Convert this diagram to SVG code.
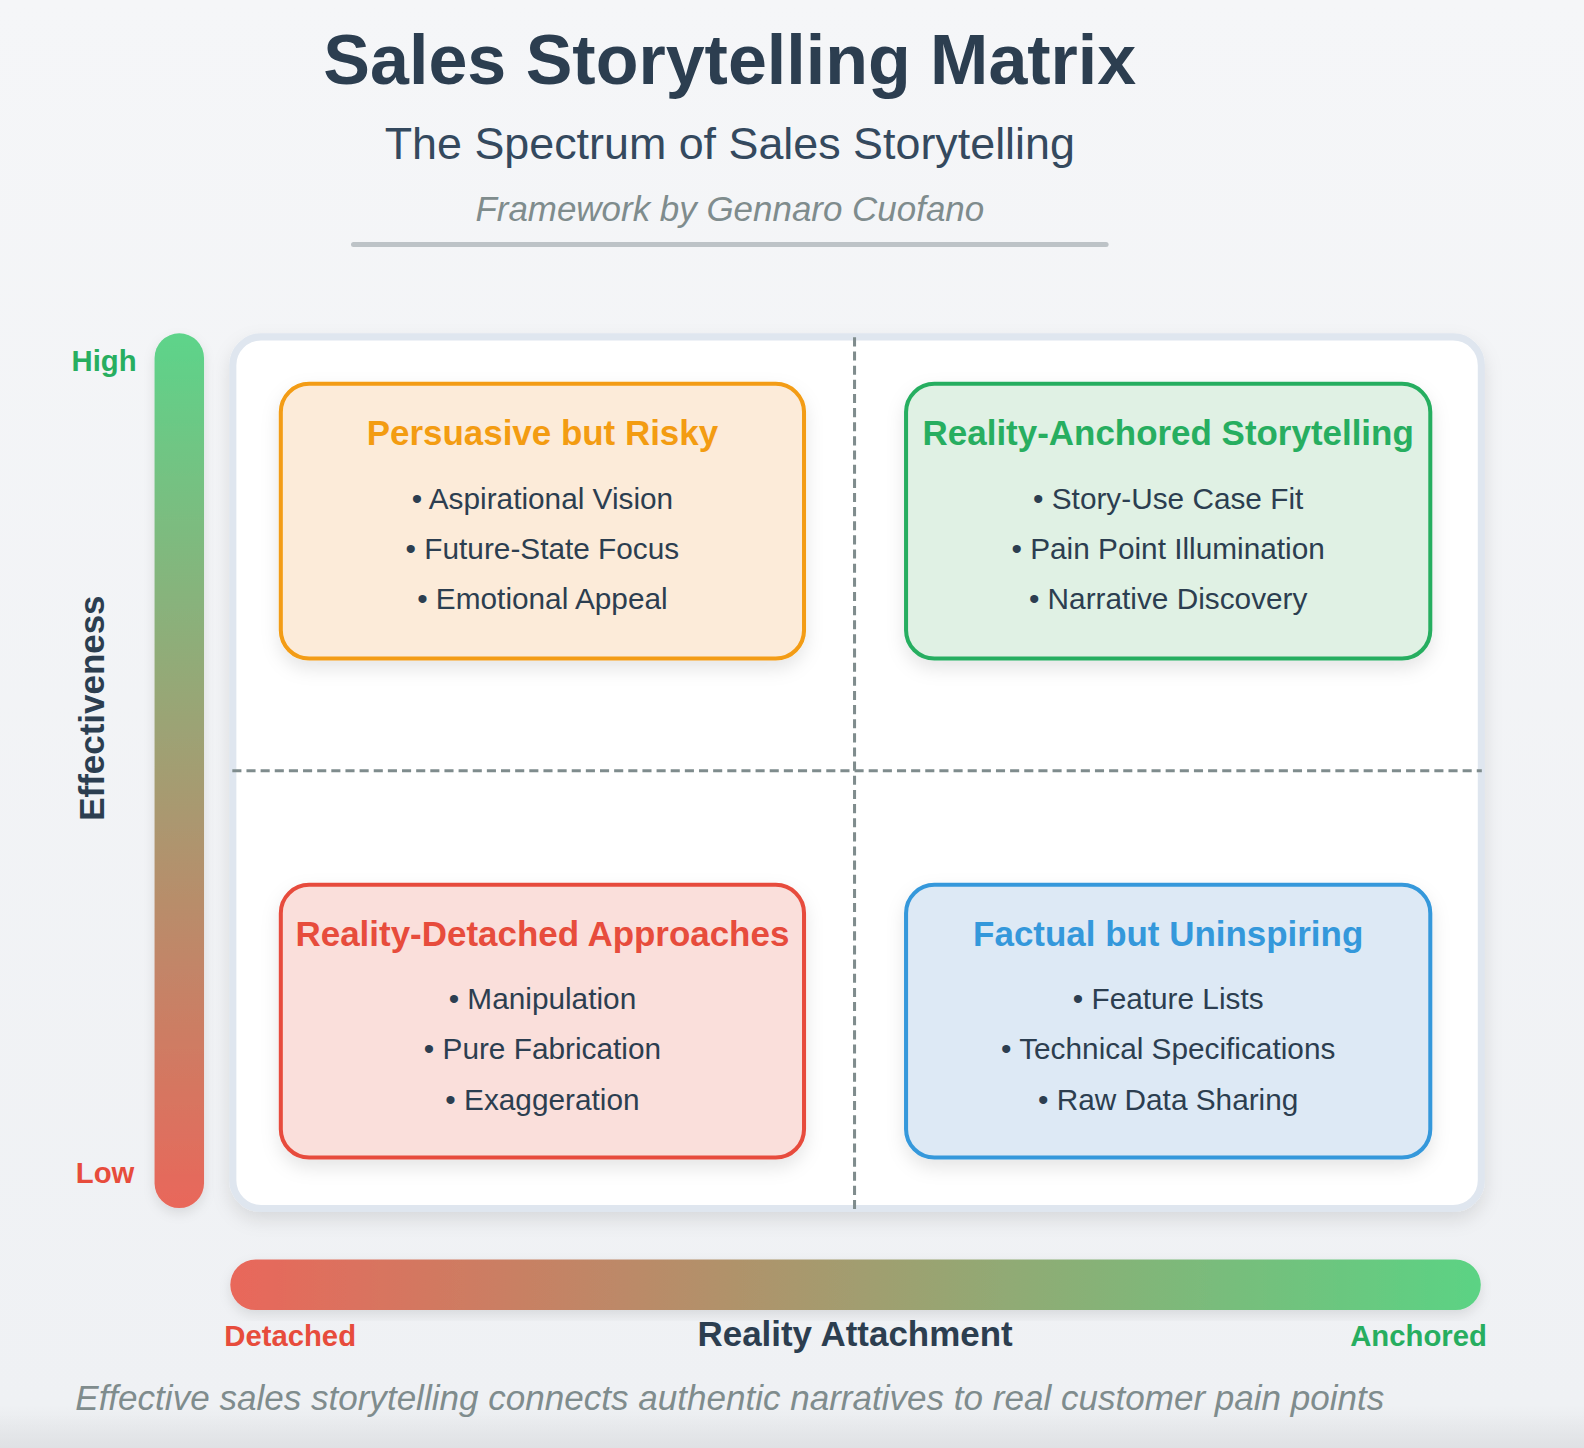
<svg xmlns="http://www.w3.org/2000/svg" width="1584" height="1448" viewBox="0 0 1584 1448">
<defs>
<style>
.t{font-family:"Liberation Sans",Arial,Helvetica,sans-serif;}
.dark{fill:#2c3e50;}
.qt{font-size:34.6px;font-weight:bold;text-anchor:middle;}
.it{font-size:29.5px;text-anchor:middle;fill:#2c3e50;}
.lbl{font-size:29px;font-weight:bold;}
.ax{font-size:34.6px;font-weight:bold;fill:#2c3e50;text-anchor:middle;}
.dash{stroke:#7f8c8d;stroke-width:3;stroke-dasharray:9 5;fill:none;}
</style>
<linearGradient id="bg" x1="0" y1="0" x2="0" y2="1">
<stop offset="0" stop-color="#f5f6f8"/>
<stop offset="0.97" stop-color="#eff1f4"/>
<stop offset="1" stop-color="#e3e5e8"/>
</linearGradient>
<linearGradient id="bottomShade" x1="0" y1="0" x2="0" y2="1">
<stop offset="0" stop-color="#e6e8eb" stop-opacity="0"/>
<stop offset="1" stop-color="#dfe1e4" stop-opacity="1"/>
</linearGradient>
<linearGradient id="vgrad" x1="0" y1="0" x2="0" y2="1">
<stop offset="0" stop-color="#5dd48a"/>
<stop offset="1" stop-color="#e9675a"/>
</linearGradient>
<linearGradient id="hgrad" x1="0" y1="0" x2="1" y2="0">
<stop offset="0" stop-color="#e9675a"/>
<stop offset="1" stop-color="#5bd384"/>
</linearGradient>
<filter id="sh" x="-20%" y="-20%" width="140%" height="150%">
<feDropShadow dx="0" dy="8" stdDeviation="9" flood-color="#000" flood-opacity="0.10"/>
</filter>
<filter id="shs" x="-20%" y="-20%" width="140%" height="140%">
<feDropShadow dx="0" dy="5" stdDeviation="6" flood-color="#000" flood-opacity="0.10"/>
</filter>
</defs>

<rect x="0" y="0" width="1584" height="1448" fill="url(#bg)"/>
<rect x="0" y="1415" width="1584" height="33" fill="url(#bottomShade)"/>

<g id="content" transform="scale(1.0101)">
<g id="header">
<text class="t dark" x="722.5" y="83" font-size="69.3" font-weight="bold" text-anchor="middle">Sales Storytelling Matrix</text>
<text class="t" x="722.5" y="157" font-size="44.4" fill="#34495e" text-anchor="middle">The Spectrum of Sales Storytelling</text>
<text class="t" x="722.5" y="219" font-size="34.6" font-style="italic" fill="#7f8c8d" text-anchor="middle">Framework by Gennaro Cuofano</text>
<line x1="350" y1="242" x2="1095" y2="242" stroke="#bdc3c7" stroke-width="5" stroke-linecap="round"/>
</g>

<g id="y-axis">
<rect x="153" y="330" width="49" height="866" rx="24.5" fill="url(#vgrad)" filter="url(#shs)"/>
<text class="t lbl" x="103" y="367" fill="#27ae60" text-anchor="middle">High</text>
<text class="t lbl" x="104" y="1171" fill="#e74c3c" text-anchor="middle">Low</text>
<text class="t ax" transform="translate(103 701) rotate(-90)" x="0" y="0">Effectiveness</text>
</g>

<g id="matrix">
<rect x="230.5" y="333.5" width="1236" height="863" rx="28" fill="#ffffff" stroke="#dfe6ef" stroke-width="7" filter="url(#sh)"/>
</g>

<g id="connectors">
<line class="dash" x1="846" y1="334" x2="846" y2="1198"/>
<line class="dash" x1="230" y1="763" x2="1467" y2="763"/>
</g>

<g id="q-persuasive">
<rect x="278" y="380" width="518" height="272" rx="28" fill="#fcebd9" stroke="#f39c12" stroke-width="4" filter="url(#sh)"/>
<text class="t qt" x="537" y="441" fill="#f39c12">Persuasive but Risky</text>
<text class="t it" x="537" y="503.5">• Aspirational Vision</text>
<text class="t it" x="537" y="553">• Future-State Focus</text>
<text class="t it" x="537" y="602.5">• Emotional Appeal</text>
</g>

<g id="q-anchored">
<rect x="897" y="380" width="519" height="272" rx="28" fill="#e0f1e4" stroke="#27ae60" stroke-width="4" filter="url(#sh)"/>
<text class="t qt" x="1156.5" y="441" fill="#27ae60">Reality-Anchored Storytelling</text>
<text class="t it" x="1156.5" y="503.5">• Story-Use Case Fit</text>
<text class="t it" x="1156.5" y="553">• Pain Point Illumination</text>
<text class="t it" x="1156.5" y="602.5">• Narrative Discovery</text>
</g>

<g id="q-detached">
<rect x="278" y="876" width="518" height="270" rx="28" fill="#fadfdb" stroke="#e74c3c" stroke-width="4" filter="url(#sh)"/>
<text class="t qt" x="537" y="937" fill="#e74c3c">Reality-Detached Approaches</text>
<text class="t it" x="537" y="998.5">• Manipulation</text>
<text class="t it" x="537" y="1048.5">• Pure Fabrication</text>
<text class="t it" x="537" y="1098.5">• Exaggeration</text>
</g>

<g id="q-factual">
<rect x="897" y="876" width="519" height="270" rx="28" fill="#dde9f5" stroke="#3498db" stroke-width="4" filter="url(#sh)"/>
<text class="t qt" x="1156.5" y="937" fill="#3498db">Factual but Uninspiring</text>
<text class="t it" x="1156.5" y="998.5">• Feature Lists</text>
<text class="t it" x="1156.5" y="1048.5">• Technical Specifications</text>
<text class="t it" x="1156.5" y="1098.5">• Raw Data Sharing</text>
</g>

<g id="x-axis">
<rect x="228" y="1247" width="1238" height="50" rx="25" fill="url(#hgrad)" filter="url(#shs)"/>
<text class="t lbl" x="222" y="1333" fill="#e74c3c">Detached</text>
<text class="t ax" x="846.5" y="1333">Reality Attachment</text>
<text class="t lbl" x="1472" y="1333" fill="#27ae60" text-anchor="end">Anchored</text>
</g>

<g id="footer">
<text class="t" x="722.5" y="1396" font-size="34.7" font-style="italic" fill="#7f8c8d" text-anchor="middle">Effective sales storytelling connects authentic narratives to real customer pain points</text>
</g>
</g>
</svg>
